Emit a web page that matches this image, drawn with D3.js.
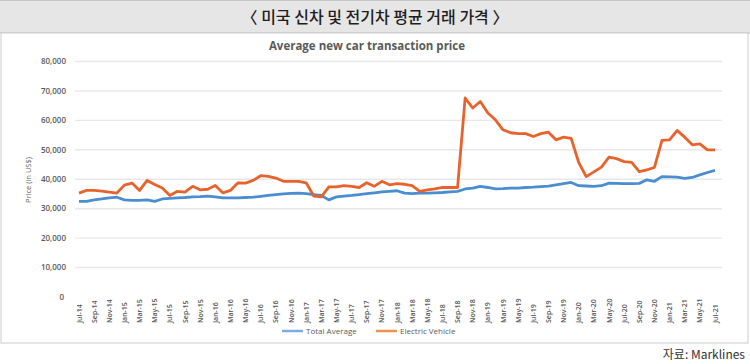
<!DOCTYPE html>
<html>
<head>
<meta charset="utf-8">
<script src="https://cdn.jsdelivr.net/npm/d3@7"></script>
<style>
  body { margin: 0; background: #fff; }
  svg { display: block; }
</style>
</head>
<body>
<div id="chart"></div>
<script>
// monthly data, Jul-14 .. Jul-21
const months = [
  "Jul-14","Aug-14","Sep-14","Oct-14","Nov-14","Dec-14",
  "Jan-15","Feb-15","Mar-15","Apr-15","May-15","Jun-15","Jul-15","Aug-15","Sep-15","Oct-15","Nov-15","Dec-15",
  "Jan-16","Feb-16","Mar-16","Apr-16","May-16","Jun-16","Jul-16","Aug-16","Sep-16","Oct-16","Nov-16","Dec-16",
  "Jan-17","Feb-17","Mar-17","Apr-17","May-17","Jun-17","Jul-17","Aug-17","Sep-17","Oct-17","Nov-17","Dec-17",
  "Jan-18","Feb-18","Mar-18","Apr-18","May-18","Jun-18","Jul-18","Aug-18","Sep-18","Oct-18","Nov-18","Dec-18",
  "Jan-19","Feb-19","Mar-19","Apr-19","May-19","Jun-19","Jul-19","Aug-19","Sep-19","Oct-19","Nov-19","Dec-19",
  "Jan-20","Feb-20","Mar-20","Apr-20","May-20","Jun-20","Jul-20","Aug-20","Sep-20","Oct-20","Nov-20","Dec-20",
  "Jan-21","Feb-21","Mar-21","Apr-21","May-21","Jun-21","Jul-21"
]

const totalAverage = [
  32500,32500,33000,33300,33700,33900,
  33000,32800,32800,33000,32500,33300,33500,33700,33800,34000,34100,34300,
  34000,33700,33700,33700,33800,33900,34200,34500,34800,35000,35200,35300,
  35100,34800,34500,33000,34000,34300,34500,34800,35100,35400,35700,35900,
  36100,35300,35100,35300,35300,35400,35500,35700,35900,36700,37000,37600,
  37200,36700,36800,37000,37000,37200,37300,37500,37700,38100,38500,38900,
  37800,37700,37600,37800,38700,38600,38500,38500,38600,39800,39300,40900,
  40800,40700,40300,40600,41500,42300,43000
]

const electricVehicle = [
  35300,36200,36200,36000,35600,35300,
  38000,38700,36200,39600,38200,37000,34500,35900,35600,37600,36400,36600,
  37900,35400,36200,38800,38700,39600,41200,41000,40400,39300,39300,39300,
  38800,34300,34000,37400,37400,37800,37600,37200,38800,37600,39300,38100,
  38500,38300,37800,35900,36400,36700,37200,37200,37200,67600,64200,66400,
  62500,60200,56800,55800,55500,55500,54500,55500,56000,53400,54300,53900,
  45700,40900,42500,44100,47500,47000,46000,45700,42600,43200,44000,53200,
  53400,56600,54300,51700,52000,50000,50000
]

const yTicks = [0, 10000, 20000, 30000, 40000, 50000, 60000, 70000, 80000]

const seriesNames = ["Total Average", "Electric Vehicle"]
const seriesColors = ["#4a8dd0", "#e8622c"]
const legendColors = ["#79aee0", "#f0904f"]

const W = 750, H = 364

const svg = d3.select("#chart").append("svg")
    .attr("width", W)
    .attr("height", H)
    .style("font-family", "'Open Sans', 'Noto Sans', sans-serif")

// header band
svg.append("rect")
    .attr("x", 0).attr("y", 0)
    .attr("width", W).attr("height", 33)
    .attr("fill", "#e6e6e6")
svg.append("line")
    .attr("x1", 0).attr("x2", W).attr("y1", 0.5).attr("y2", 0.5)
    .attr("stroke", "#c4c4c4")
svg.append("line")
    .attr("x1", 0).attr("x2", W).attr("y1", 33).attr("y2", 33)
    .attr("stroke", "#c4c4c4").attr("stroke-width", 1.5)

svg.append("text")
    .attr("x", W / 2).attr("y", 23)
    .attr("text-anchor", "middle")
    .style("font-family", "'Noto Sans CJK KR', sans-serif")
    .style("font-size", "16px")
    .style("font-weight", 500)
    .attr("fill", "#1e1e1e")
    .text("〈 미국 신차 및 전기차 평균 거래 가격 〉")

// chart box
svg.append("rect")
    .attr("x", 1).attr("y", 33)
    .attr("width", W - 3).attr("height", 310)
    .attr("fill", "#fff")
    .attr("stroke", "#d4d4d4")
    .attr("stroke-width", 1.2)

svg.append("text")
    .attr("x", 367).attr("y", 50)
    .attr("text-anchor", "middle")
    .style("font-size", "11.5px")
    .style("font-weight", 700)
    .attr("fill", "#595959")
    .text("Average new car transaction price")

const x = d3.scalePoint()
    .domain(months)
    .range([79, 715])

const y = d3.scaleLinear()
    .domain([0, 80000])
    .range([297, 61.5])

// gridlines
svg.append("g")
    .selectAll("line")
    .data(yTicks.filter(d => d > 0))
    .join("line")
    .attr("x1", 75).attr("x2", 722)
    .attr("y1", d => y(d)).attr("y2", d => y(d))
    .attr("stroke", "#e8e8e8")
    .attr("stroke-width", 1.4)

// y axis labels
const fmt = d3.format(",")
svg.append("g")
    .selectAll("text")
    .data(yTicks)
    .join("text")
    .attr("x", d => d == 0 ? 64 : 66)
    .attr("y", d => y(d) + 2.7)
    .attr("text-anchor", "end")
    .style("font-size", "8px")
    .style("font-weight", 600)
    .attr("fill", "#595959")
    .text(d => fmt(d))

svg.append("text")
    .attr("transform", "translate(31,180) rotate(-90)")
    .attr("text-anchor", "middle")
    .style("font-size", "7.5px")
    .attr("fill", "#595959")
    .text("Price (in US$)")

// x axis labels (every 2nd month)
const tickMonths = months.filter((d, i) => i % 2 == 0)
svg.append("g")
    .selectAll("text")
    .data(tickMonths)
    .join("text")
    .attr("transform", d => `translate(${x(d) + 2.5},323) rotate(-90)`)
    .attr("text-anchor", "start")
    .style("font-size", "7px")
    .style("font-weight", 600)
    .attr("fill", "#555")
    .text(d => d)

// lines
const allSeries = [totalAverage, electricVehicle]
const line = d3.line()
    .x((d, i) => x(months[i]))
    .y(d => y(d))

svg.append("g")
    .selectAll("path")
    .data(allSeries)
    .join("path")
    .attr("d", d => line(d))
    .attr("fill", "none")
    .attr("stroke", (d, i) => seriesColors[i])
    .attr("stroke-width", 2.8)
    .attr("stroke-linejoin", "round")

// legend
const legendX = [282, 376]
const legend = svg.append("g")
    .selectAll("g")
    .data(seriesNames)
    .join("g")
    .attr("transform", (d, i) => `translate(${legendX[i]},331)`)

legend.append("line")
    .attr("x1", 0).attr("x2", 21)
    .attr("stroke", (d, i) => legendColors[i])
    .attr("stroke-width", 2.5)

legend.append("text")
    .attr("x", 24).attr("y", 2.8)
    .style("font-size", "8px")
    .attr("fill", "#595959")
    .text(d => d)

// source
svg.append("text")
    .attr("x", 745).attr("y", 359)
    .attr("text-anchor", "end")
    .style("font-family", "'Noto Sans CJK KR', sans-serif")
    .style("font-size", "12px")
    .attr("fill", "#333")
    .text("자료: Marklines")
</script>
</body>
</html>
